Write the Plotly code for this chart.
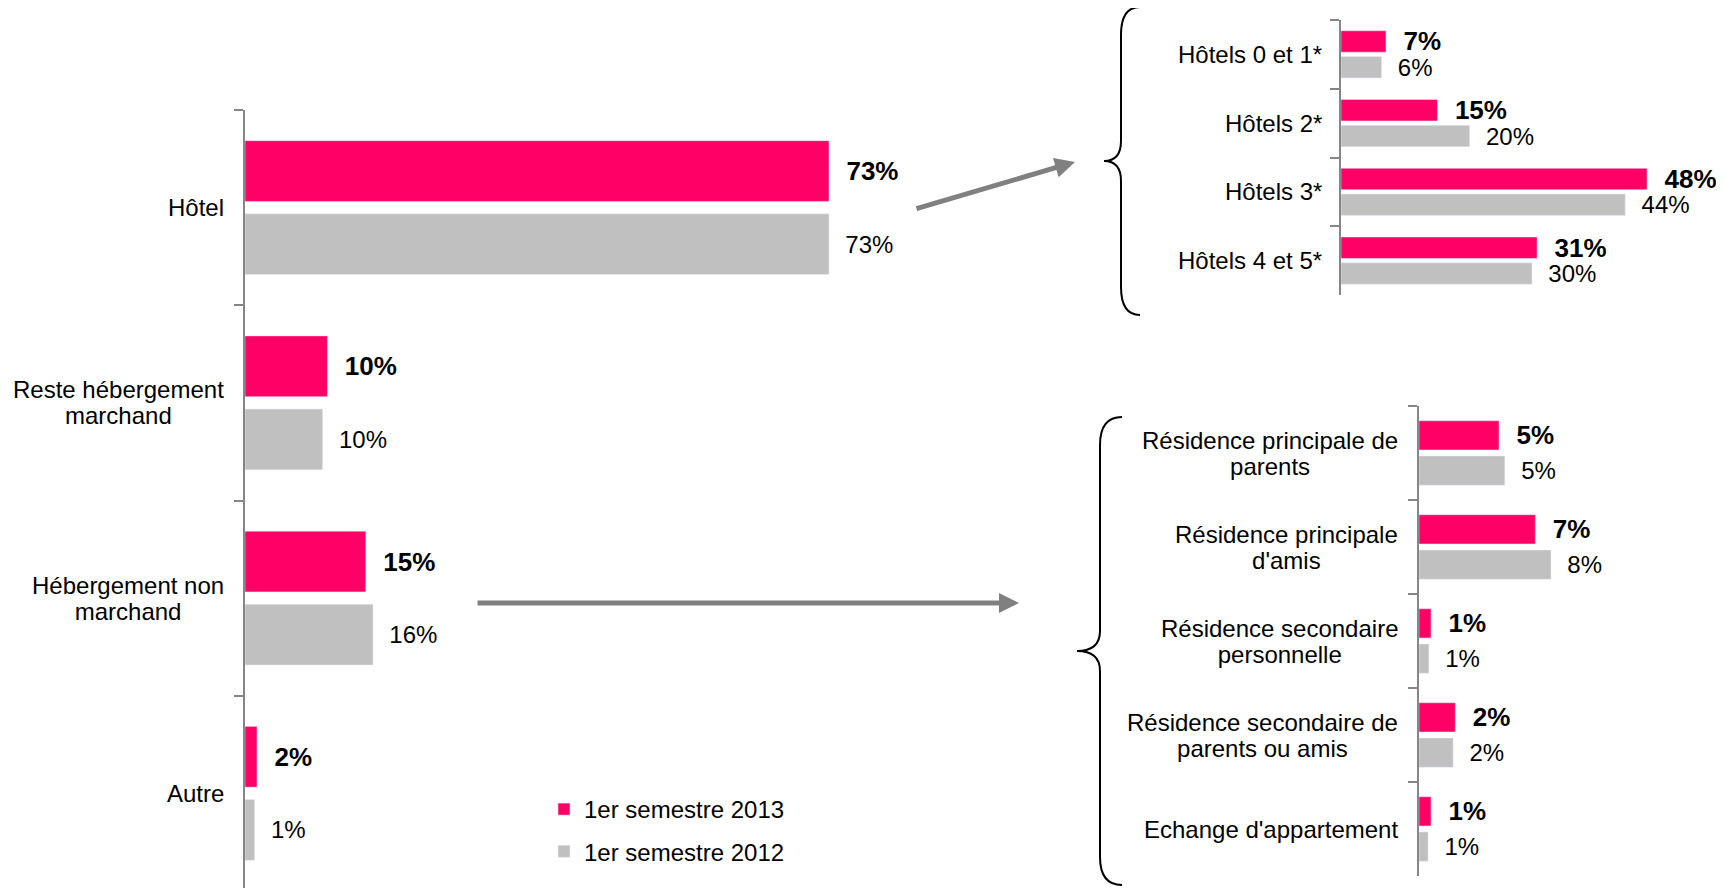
import plotly.graph_objects as go

# ------------------------
# Data
# ------------------------

main_cats = ["Hôtel", "Reste hébergement<br>marchand", "Hébergement non<br>marchand", "Autre"]
main_2013 = [73, 10.3, 15.1, 1.5]
main_2012 = [73, 9.7, 16.0, 1.2]

hotel_cats = ["Hôtels 0 et 1*", "Hôtels 2*", "Hôtels 3*", "Hôtels 4 et 5*"]
hotel_2013 = [7.0, 15.0, 47.6, 30.5]
hotel_2012 = [6.3, 20.0, 44.2, 29.7]

nm_cats = ["Résidence principale de<br>parents", "Résidence principale<br>d'amis",
           "Résidence secondaire<br>personnelle", "Résidence secondaire de<br>parents ou amis",
           "Echange d'appartement"]
nm_2013 = [4.85, 7.05, 0.73, 2.2, 0.73]
nm_2012 = [5.2, 8.0, 0.6, 2.07, 0.55]

series_names = ["1er semestre 2013", "1er semestre 2012"]

# ------------------------
# Style
# ------------------------

W, H = 1724, 888
OFF = 8  # page margin of the html body
PINK = "#FF0066"
GREY = "#C0C0C0"
AXIS = "#868686"
FONT = "Liberation Sans, Arial, sans-serif"
NB = "\u00a0\u00a0"


def X(px):
    return (px - OFF) / W


def Y(py):
    return 1 - (py - OFF) / H


def pct(values):
    return [NB + f"{int(v + 0.5)}%" for v in values]


fig = go.Figure()

panels = [
    ("x", "y", main_cats, main_2013, main_2012, True),
    ("x2", "y2", hotel_cats, hotel_2013, hotel_2012, False),
    ("x3", "y3", nm_cats, nm_2013, nm_2012, False),
]

for xa, ya, cats, v13, v12, legend in panels:
    fig.add_trace(go.Bar(
        y=cats, x=v13, orientation="h", name=series_names[0],
        marker_color=PINK, xaxis=xa, yaxis=ya,
        text=pct(v13), textposition="outside", constraintext="none", cliponaxis=False,
        textfont=dict(size=26, color="black", family=FONT, weight="bold"),
        legendgroup="2013", showlegend=legend,
    ))
    fig.add_trace(go.Bar(
        y=cats, x=v12, orientation="h", name=series_names[1],
        marker_color=GREY, xaxis=xa, yaxis=ya,
        text=pct(v12), textposition="outside", constraintext="none", cliponaxis=False,
        textfont=dict(size=24, color="black", family=FONT),
        legendgroup="2012", showlegend=legend,
    ))

# category labels: centred lines, tighter line spacing than plotly's default
annotations = []
label_gaps = {"x": 19, "x2": 17, "x3": 19}
for xa, ya, cats, v13, v12, legend in panels:
    for c in cats:
        txt = "<br>".join(f"<span style='font-size:24px'>{line}</span>" for line in c.split("<br>"))
        annotations.append(dict(
            x=0, y=c, xref=xa + " domain", yref=ya,
            text=txt, showarrow=False, xanchor="right", yanchor="middle", align="center",
            xshift=-label_gaps[xa],
            font=dict(size=20.3, color="black", family=FONT),
        ))

# arrows
annotations.append(dict(
    x=X(1075), y=Y(162), xref="paper", yref="paper", text="",
    showarrow=True, ax=915 - 1075, ay=209 - 162,
    arrowhead=2, arrowsize=0.8, arrowwidth=5, arrowcolor="#808080",
))
annotations.append(dict(
    x=X(1019), y=Y(603), xref="paper", yref="paper", text="",
    showarrow=True, ax=476 - 1019, ay=0,
    arrowhead=2, arrowsize=0.8, arrowwidth=5, arrowcolor="#808080",
))


def brace(x_end, x_line, x_tip, y_top, y_bot, r1=28, r2=20):
    y_mid = (y_top + y_bot) / 2
    pts = [
        f"M{X(x_end)},{Y(y_top)}",
        f"Q{X(x_line)},{Y(y_top)} {X(x_line)},{Y(y_top + r1)}",
        f"L{X(x_line)},{Y(y_mid - r2)}",
        f"Q{X(x_line)},{Y(y_mid)} {X(x_tip)},{Y(y_mid)}",
        f"Q{X(x_line)},{Y(y_mid)} {X(x_line)},{Y(y_mid + r2)}",
        f"L{X(x_line)},{Y(y_bot - r1)}",
        f"Q{X(x_line)},{Y(y_bot)} {X(x_end)},{Y(y_bot)}",
    ]
    return dict(type="path", xref="paper", yref="paper", path=" ".join(pts),
                line=dict(color="black", width=2))


shapes = [
    brace(1140, 1121, 1104, 7, 315),
    brace(1122, 1100, 1077, 417, 885),
]

xcommon = dict(showgrid=False, zeroline=False, showticklabels=False, showline=False)
ycommon = dict(showgrid=False, zeroline=False, showticklabels=False, showline=True,
               linecolor=AXIS, linewidth=1.5, ticks="outside", tickson="boundaries",
               ticklen=9, tickwidth=1.5, tickcolor=AXIS, autorange="reversed")

fig.update_layout(
    width=W, height=H,
    margin=dict(l=0, r=0, t=0, b=0),
    paper_bgcolor="white", plot_bgcolor="white",
    font=dict(family=FONT, size=24, color="black"),
    barmode="group", bargap=0.25, bargroupgap=0.17,
    xaxis=dict(domain=[X(245), X(245 + 8.0 * 80)], range=[0, 80], anchor="y", **xcommon),
    yaxis=dict(domain=[Y(891), Y(110)], anchor="x", **ycommon),
    xaxis2=dict(domain=[X(1341), X(1341 + 6.43 * 55)], range=[0, 55], anchor="y2", **xcommon),
    yaxis2=dict(domain=[Y(295), Y(20)], anchor="x2", **ycommon),
    xaxis3=dict(domain=[X(1419), X(1419 + 16.5 * 18)], range=[0, 18], anchor="y3", **xcommon),
    yaxis3=dict(domain=[Y(876), Y(406)], anchor="x3", **ycommon),
    legend=dict(x=X(544), y=Y(787), xanchor="left", yanchor="top",
                font=dict(size=24, family=FONT, color="black"),
                tracegroupgap=8, bgcolor="rgba(0,0,0,0)"),
    annotations=annotations,
    shapes=shapes,
    showlegend=True,
)

fig.write_html("out.html")
